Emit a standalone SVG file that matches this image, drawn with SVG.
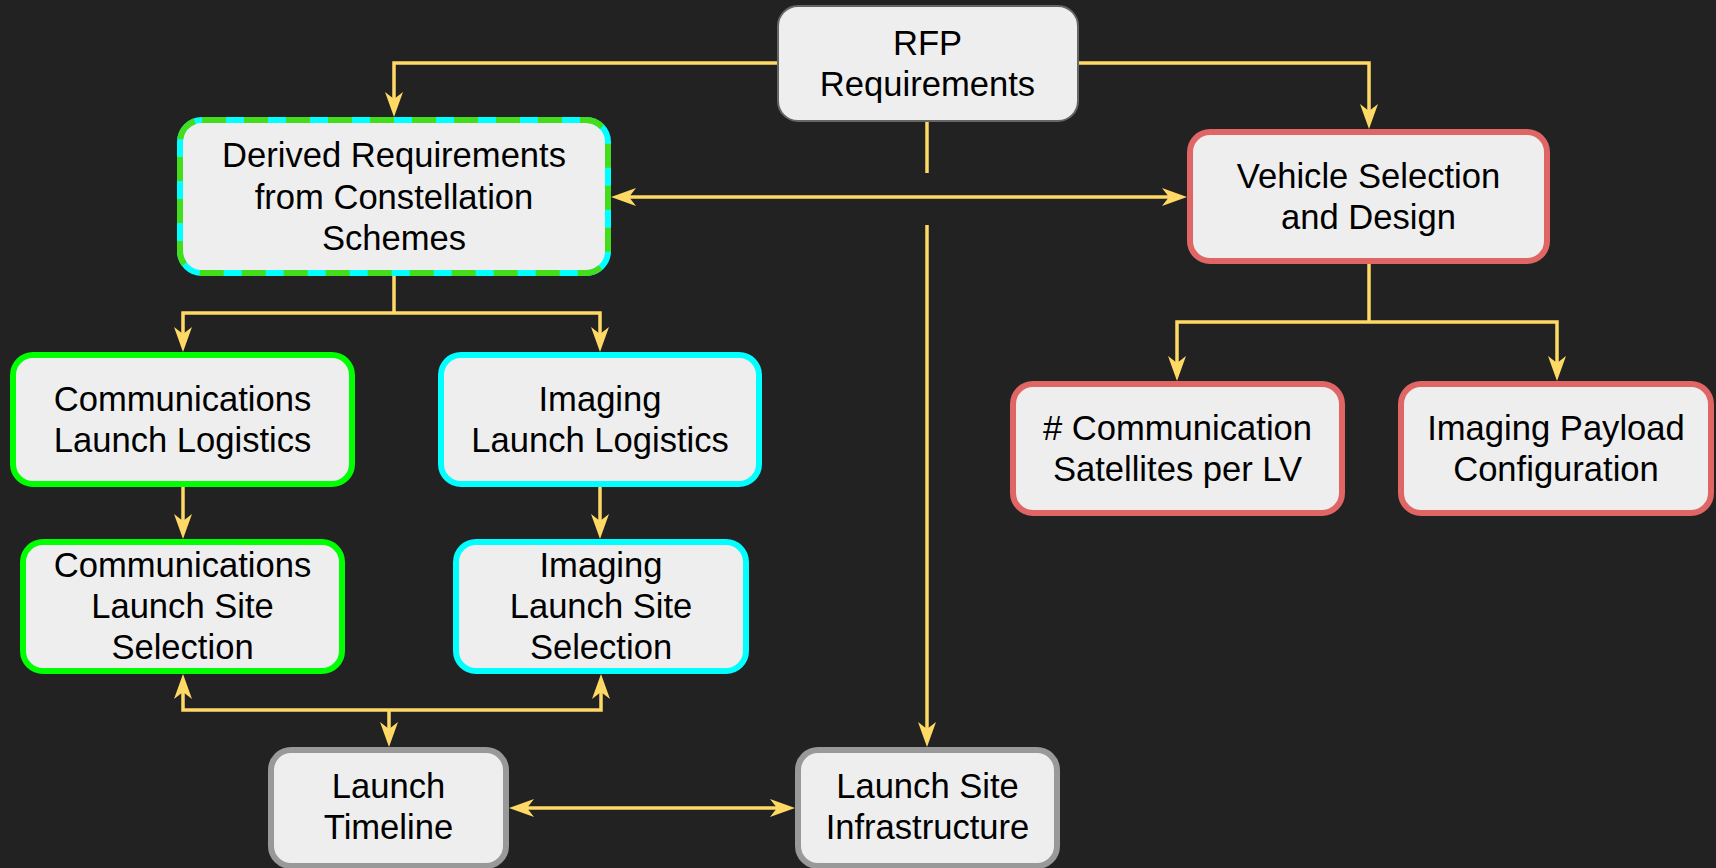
<svg xmlns="http://www.w3.org/2000/svg" width="1716" height="868" viewBox="0 0 1716 868">
<style>
.box{fill:#eeeeee;stroke-width:6}
.t{font-family:"Liberation Sans",Arial,sans-serif;font-size:34.6px;fill:#000;text-anchor:middle}
.c{fill:none;stroke:#ffd966;stroke-width:3.5}
.a{marker-end:url(#ar)}
.b{marker-start:url(#ar);marker-end:url(#ar)}
</style>
<defs>
<marker id="ar" markerUnits="userSpaceOnUse" viewBox="-8 -10 28 20" refX="0" refY="0" markerWidth="28" markerHeight="20" orient="auto-start-reverse">
<path d="M18,0 L-7,-9 L0,0 L-7,9 Z" fill="#ffd966"/>
</marker>
</defs>
<rect width="1716" height="868" fill="#222222"/>
<g id="connectors">
<path class="c a" d="M777,63 H394 V99"/>
<path class="c a" d="M1078,63 H1369 V111"/>
<path class="c" d="M927,121 V173"/>
<path class="c a" d="M927,225 V729"/>
<path class="c b" d="M629,197 H1169"/>
<path class="c" d="M394,276 V313"/>
<path class="c b" d="M183,334 V313 H600 V334"/>
<path class="c a" d="M183,487 V521"/>
<path class="c a" d="M600,485 V521"/>
<path class="c b" d="M183,692 V710 H601 V692"/>
<path class="c a" d="M389,710 V729"/>
<path class="c b" d="M527,808 H777"/>
<path class="c" d="M1369,264 V322"/>
<path class="c b" d="M1177,363 V322 H1557 V363"/>
</g>
<g id="rfp">
<rect x="778" y="6" width="300" height="115" rx="20" fill="#eeeeee" stroke="#666666" stroke-width="2"/>
<text class="t" x="927.5" y="54.5">RFP</text>
<text class="t" x="927.5" y="95.5">Requirements</text>
</g>
<g id="derived">
<rect x="180" y="120" width="428" height="153" rx="22" class="box" stroke="#00ffff"/>
<rect x="180" y="120" width="428" height="153" rx="22" fill="none" stroke="#44dd1c" stroke-width="6" stroke-dasharray="24 18"/>
<text class="t" x="394" y="167">Derived Requirements</text>
<text class="t" x="394" y="208.5">from Constellation</text>
<text class="t" x="394" y="250">Schemes</text>
</g>
<g id="vehicle">
<rect x="1190" y="132" width="357" height="129" rx="20" class="box" stroke="#e06666"/>
<text class="t" x="1368.5" y="188">Vehicle Selection</text>
<text class="t" x="1368.5" y="229">and Design</text>
</g>
<g id="commsat">
<rect x="1013" y="384" width="329" height="129" rx="20" class="box" stroke="#e06666"/>
<text class="t" x="1177.5" y="439.5"># Communication</text>
<text class="t" x="1177.5" y="480.5">Satellites per LV</text>
</g>
<g id="payload">
<rect x="1401" y="384" width="310" height="129" rx="20" class="box" stroke="#e06666"/>
<text class="t" x="1556" y="439.5">Imaging Payload</text>
<text class="t" x="1556" y="480.5">Configuration</text>
</g>
<g id="commll">
<rect x="13" y="355" width="339" height="129" rx="20" class="box" stroke="#00ff00"/>
<text class="t" x="182.5" y="411">Communications</text>
<text class="t" x="182.5" y="452">Launch Logistics</text>
</g>
<g id="imgll">
<rect x="441" y="355" width="318" height="129" rx="20" class="box" stroke="#00ffff"/>
<text class="t" x="600" y="411">Imaging</text>
<text class="t" x="600" y="452">Launch Logistics</text>
</g>
<g id="commlss">
<rect x="23" y="542" width="319" height="129" rx="20" class="box" stroke="#00ff00"/>
<text class="t" x="182.5" y="577">Communications</text>
<text class="t" x="182.5" y="618">Launch Site</text>
<text class="t" x="182.5" y="659">Selection</text>
</g>
<g id="imglss">
<rect x="456" y="542" width="290" height="129" rx="20" class="box" stroke="#00ffff"/>
<text class="t" x="601" y="577">Imaging</text>
<text class="t" x="601" y="618">Launch Site</text>
<text class="t" x="601" y="659">Selection</text>
</g>
<g id="timeline">
<rect x="271" y="750" width="235" height="116" rx="20" class="box" stroke="#999999"/>
<text class="t" x="388.5" y="798">Launch</text>
<text class="t" x="388.5" y="839">Timeline</text>
</g>
<g id="infra">
<rect x="798" y="750" width="259" height="116" rx="20" class="box" stroke="#999999"/>
<text class="t" x="927.5" y="798">Launch Site</text>
<text class="t" x="927.5" y="839">Infrastructure</text>
</g>
</svg>
